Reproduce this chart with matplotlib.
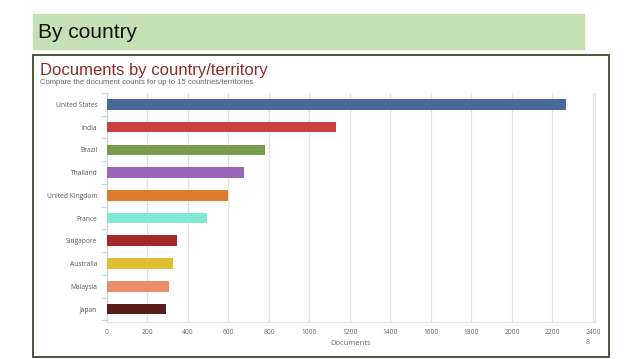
import matplotlib
matplotlib.use("Agg")
import matplotlib.pyplot as plt
from matplotlib.patches import Rectangle

countries = ["United States", "India", "Brazil", "Thailand", "United Kingdom",
             "France", "Singapore", "Australia", "Malaysia", "Japan"]
documents = [2265, 1132, 782, 677, 597, 492, 346, 325, 307, 293]
bar_colors = ["#476b96", "#c8403f", "#799b4e", "#9966b8", "#e07a2e",
              "#7fe9d3", "#a2282a", "#dfbe2f", "#e88f6c", "#5c1b1b"]
x_ticks = list(range(0, 2401, 200))

fig = plt.figure(figsize=(6.38, 3.59), dpi=100)
W, H = 638, 359


def fx(px):
    return px / W


def fy(py):
    return 1 - py / H


# green banner + slide heading
fig.patches.append(Rectangle((fx(33), fy(49)), fx(584) - fx(33), fy(14) - fy(49),
                             transform=fig.transFigure, color="#c5e0b4", zorder=0))
fig.text(fx(38), fy(33), "By country", fontsize=15, family="Liberation Sans",
         va="center", ha="left", color="#111111")

# screenshot frame
fig.patches.append(Rectangle((fx(33), fy(357)), fx(609) - fx(33), fy(55) - fy(357),
                             transform=fig.transFigure, fill=False,
                             edgecolor="#3b4a2a", lw=1.3, zorder=1))

fig.text(fx(40), fy(70), "Documents by country/territory", fontsize=12,
         family="Liberation Sans", color="#8e2b2b", va="center")
fig.text(fx(40), fy(83), "Compare the document counts for up to 15 countries/territories",
         fontsize=5.5, family="Liberation Sans", color="#666666", va="center")

ax = fig.add_axes([fx(107), fy(322), fx(595) - fx(107), fy(93) - fy(322)])
y = list(range(len(countries)))
ax.barh(y, documents, height=0.47, color=bar_colors, zorder=3)
ax.set_ylim(9.57, -0.48)
ax.set_xlim(0, 2410)
ax.set_xticks(x_ticks)
ax.set_xticklabels([str(t) for t in x_ticks], fontsize=4.8, color="#666666",
                   family="Open Sans")
ax.set_yticks(y)
ax.set_yticklabels(countries, fontsize=4.8, color="#555555", family="Open Sans")
ax.tick_params(axis="y", length=0, pad=7)
ax.tick_params(axis="x", length=0, pad=5)
ax.set_yticks([i + 0.5 for i in range(-1, 10)], minor=True)
ax.tick_params(axis="y", which="minor", length=4, color="#c8d4e2", width=0.8)
ax.grid(axis="x", color="#e3e3e3", lw=0.9, zorder=0)
ax.spines["top"].set_visible(False)
ax.spines["right"].set_color("#e3e3e3")
ax.spines["bottom"].set_color("#e3e3e3")
ax.spines["left"].set_color("#c8d4e2")
ax.set_xlabel("Documents", fontsize=5.5, color="#666666", family="Open Sans",
              labelpad=3)

fig.text(fx(586), fy(342), "8", fontsize=5, color="#777777", family="Open Sans",
         va="center")

fig.savefig("out.png", dpi=100)
